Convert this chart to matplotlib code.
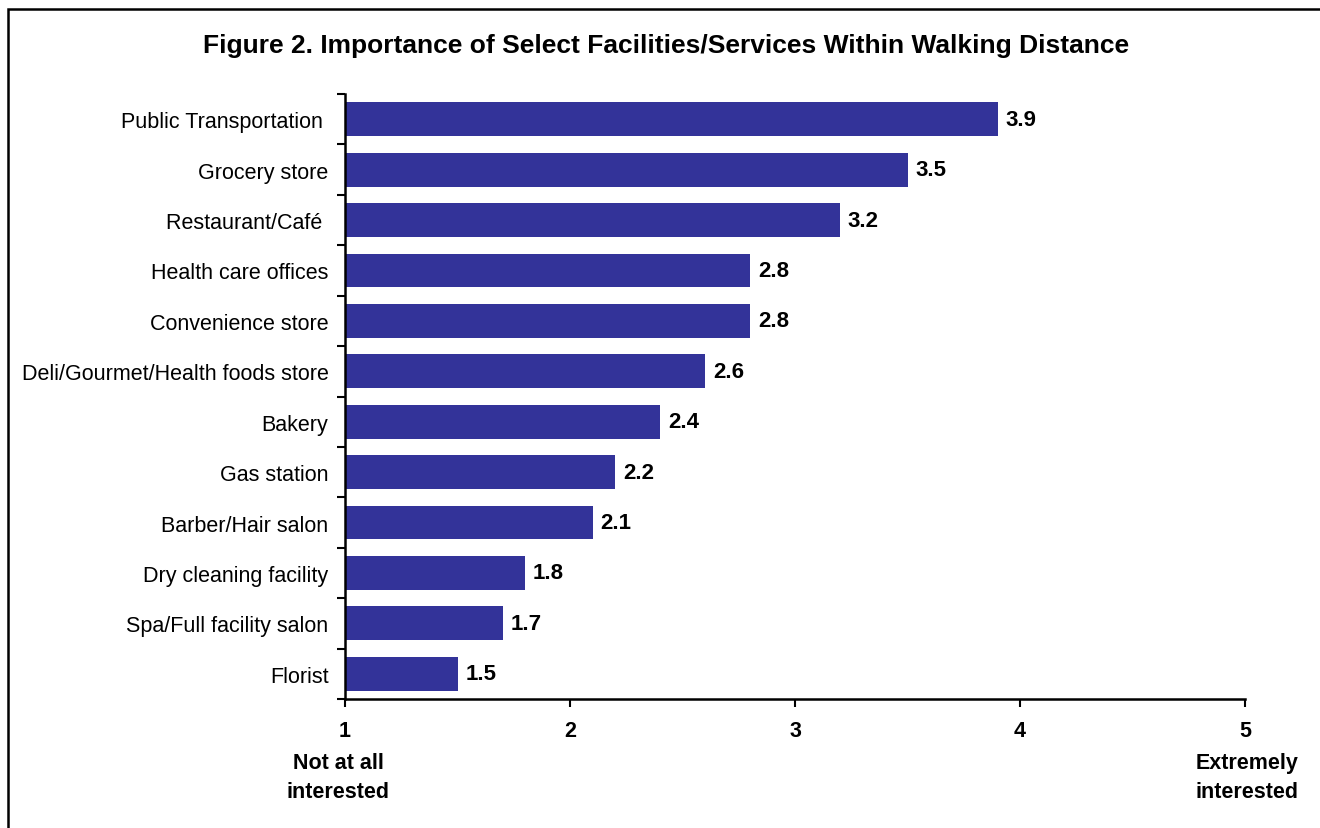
import matplotlib.pyplot as plt
from matplotlib.patches import Rectangle

plt.rcParams['font.family'] = ['Liberation Sans', 'DejaVu Sans']

# data, top to bottom as in the figure
categories = ['Public Transportation ', 'Grocery store', 'Restaurant/Café ',
              'Health care offices', 'Convenience store',
              'Deli/Gourmet/Health foods store', 'Bakery', 'Gas station',
              'Barber/Hair salon', 'Dry cleaning facility',
              'Spa/Full facility salon', 'Florist']
scores = [3.9, 3.5, 3.2, 2.8, 2.8, 2.6, 2.4, 2.2, 2.1, 1.8, 1.7, 1.5]
x_ticks = [1, 2, 3, 4, 5]

fig = plt.figure(figsize=(13.2, 8.29), dpi=100)
ax = fig.add_axes([0.2614, 0.1556, 0.6818, 0.7298])

ypos = list(range(len(categories)))[::-1]
ax.barh(ypos, [s - 1 for s in scores], left=1, height=0.67, color='#333399')

for y, s in zip(ypos, scores):
    ax.text(s + 0.035, y, f'{s:.1f}', va='center', ha='left',
            fontsize=16, fontweight='bold')

ax.set_xlim(1, 5)
ax.set_ylim(-0.5, len(categories) - 0.5)
ax.set_xticks(x_ticks)
ax.set_xticklabels([str(t) for t in x_ticks], fontsize=15.5, fontweight='bold')
ax.set_yticks(ypos)
ax.set_yticklabels(categories, fontsize=15.5)
ax.set_yticks([i - 0.5 for i in range(len(categories) + 1)], minor=True)
ax.tick_params(axis='y', which='major', length=0, pad=12)
ax.tick_params(axis='y', which='minor', length=6, width=1.5, direction='out')
ax.tick_params(axis='x', length=6, width=1.5, direction='out', pad=9)

for side in ['top', 'right']:
    ax.spines[side].set_visible(False)
for side in ['left', 'bottom']:
    ax.spines[side].set_linewidth(1.8)

fig.text(0.5049, 0.944, 'Figure 2. Importance of Select Facilities/Services Within Walking Distance',
         ha='center', va='center', fontsize=19, fontweight='bold')
fig.text(338 / 1320, 1 - 778 / 829, 'Not at all\ninterested', ha='center', va='center',
         fontsize=15.5, fontweight='bold', linespacing=1.5)
fig.text(1247 / 1320, 1 - 778 / 829, 'Extremely\ninterested', ha='center', va='center',
         fontsize=15.5, fontweight='bold', linespacing=1.5)

# outer frame
fig.patches.append(Rectangle((8 / 1320, -0.1), 1.2, 1 - 10 / 829 + 0.1,
                             transform=fig.transFigure, fill=False,
                             edgecolor='black', linewidth=1.8))

fig.savefig('out.png', dpi=100)
